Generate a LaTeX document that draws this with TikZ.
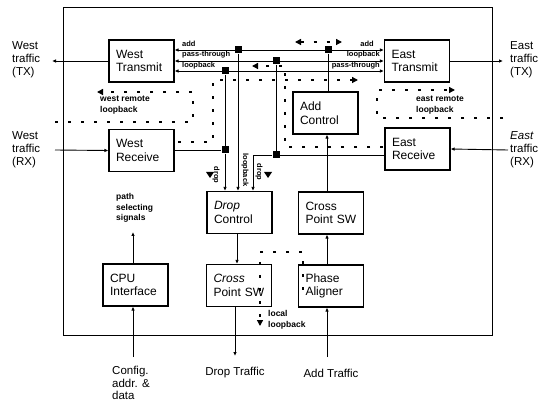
\documentclass[tikz,border=0pt]{standalone}
\usepackage{fontspec}
\setmainfont{Liberation Sans}
\usetikzlibrary{arrows.meta}
\begin{document}
\begin{tikzpicture}[x=1pt,y=-1pt,
  blk/.style={draw, line width=1.1pt, minimum height=42pt, align=left,
    font=\fontsize{12}{13.5}\selectfont, text width=51pt, inner xsep=7pt, inner ysep=0pt},
  wire/.style={line width=0.9pt},
  tip/.style={-{Latex[length=4pt,width=3.5pt]}},
  btip/.style={{Latex[length=4pt,width=3.5pt]}-{Latex[length=4pt,width=3.5pt]}},
  junc/.style={fill=black, rectangle, minimum size=7pt, inner sep=0pt},
  dpath/.style={line width=1.3pt, dash pattern=on 3pt off 10pt, -{Triangle[length=6pt,width=6pt]}},
  side/.style={align=left, font=\fontsize{11.5}{13}\selectfont, inner sep=0pt},
  small/.style={font=\fontsize{7.5}{8}\selectfont\bfseries, inner sep=0pt},
  note/.style={align=left, font=\fontsize{8.5}{10.5}\selectfont\bfseries, inner sep=0pt}]
\useasboundingbox (0,0) rectangle (555,401);
% outer box
\draw[line width=1pt] (63,8) rectangle (492,335);
% blocks
\node[blk] (wtx) at (141.5,61) {West\\Transmit};
\node[blk] (wrx) at (141.5,150.5) {West\\Receive};
\node[blk] (etx) at (417,61) {East\\Transmit};
\node[blk] (erx) at (417.5,149) {East\\Receive};
\node[blk] (addc) at (325.5,113) {Add\\Control};
\node[blk] (dropc) at (239.5,212.5) {\textit{Drop}\\Control};
\node[blk] (cpsu) at (331,213) {Cross\\Point SW};
\node[blk] (cpsl) at (239,285.5) {\textit{Cross}\\Point SW};
\node[blk] (pha) at (331,286) {Phase\\Aligner};
\node[blk] (cpu) at (135.5,285) {CPU\\Interface};
% outside labels
\node[side, anchor=west] (wtxl) at (12,60) {West\\traffic\\(TX)};
\node[side, anchor=west] (wrxl) at (12,150) {West\\traffic\\(RX)};
\node[side, anchor=west] (etxl) at (510,60) {East\\traffic\\(TX)};
\node[side, anchor=west] (erxl) at (510,150) {\textit{East}\\traffic\\(RX)};
\node[side, anchor=north west, font=\fontsize{11.5}{12.5}\selectfont] (cfgl) at (112,366) {Config.\\addr. \&\\data};
\node[side] (dropl) at (235,373) {Drop Traffic};
\node[side] (addl) at (331,373) {Add Traffic};
\node[note, anchor=west] (psl) at (116,208) {path\\selecting\\signals};
% connector end points
\coordinate (wa) at (wtx.east |- 0,50);
\coordinate (wp) at (wtx.east |- 0,61);
\coordinate (wl) at (wtx.east |- 0,71);
\coordinate (ea) at (etx.west |- 0,50);
\coordinate (el) at (etx.west |- 0,61);
\coordinate (ep) at (etx.west |- 0,71);
\coordinate (wtxo) at (52,61);
\coordinate (wrxi) at (55,150);
\coordinate (etxo) at (503,61);
\coordinate (erxi) at (508,150);
\coordinate (dto) at (235,356);
\coordinate (ati) at (327,357);
\coordinate (cfi) at (133,357);
\coordinate (pso) at (133,232);
% junctions
\node[junc] (j1) at (238,50) {};
\node[junc] (j2) at (276,61) {};
\node[junc] (j3) at (225,71) {};
\node[junc] (j4) at (328,50) {};
\node[junc] (j5) at (225,150) {};
\node[junc] (j6) at (276,155) {};
% bus lines
\draw[wire,btip] (wa) -- (ea);
\draw[wire,btip] (wp) -- (el);
\draw[wire,btip] (wl) -- (ep);
% verticals
\draw[wire,tip] (j1) -- (j1 |- dropc.north);
\draw[wire] (j3) -- (j5);
\draw[wire,tip] (j5) -- (j5 |- dropc.north);
\draw[wire] (j2) -- (j6);
\draw[wire,tip] (j6) -| (253,0 |- dropc.north);
\draw[wire] (wrx.east |- j5) -- (j5);
\draw[wire] (erx.west |- j6) -- (j6);
\draw[wire] (j4) -- (j4 |- addc.north);
\draw[wire,tip] (327,0 |- cpsu.north) -- (327,0 |- addc.south);
\draw[wire,tip] (327,0 |- pha.north) -- (327,0 |- cpsu.south);
\draw[wire,tip] (237,0 |- dropc.south) -- (237,0 |- cpsl.north);
\draw[wire,tip] (235,0 |- cpsl.south) -- (dto);
\draw[wire,tip] (ati) -- (327,0 |- pha.south);
\draw[wire,tip] (cfi) -- (133,0 |- cpu.south);
\draw[wire,tip] (133,0 |- cpu.north) -- (pso);
\draw[wire,tip] (wtx.west) -- (wtxo);
\draw[wire,tip] (wrxi) -- (wrx.west);
\draw[wire,tip] (etx.east) -- (etxo);
\draw[wire,tip] (erxi) -- (erx.east);
% bus labels
\node[small, anchor=west] (la1) at (182,44) {add};
\node[small, anchor=west] (la2) at (182,55) {pass-through};
\node[small, anchor=west] (la3) at (182,65.5) {loopback};
\node[small, anchor=east] (lb1) at (374,44) {add};
\node[small, anchor=east] (lb2) at (380,55) {loopback};
\node[small, anchor=east] (lb3) at (380,65.5) {pass-through};
\node[small, rotate=-90] (ld1) at (216,175) {drop};
\node[small, rotate=-90] (ld2) at (245,170) {loopback};
\node[small, rotate=-90] (ld3) at (259,172) {drop};
\fill (206,172) -- (214,172) -- (210,178) -- cycle;
\fill (264,172) -- (272,172) -- (268,178) -- cycle;
% dashed paths
\draw[dpath] (55,122) -- (193,122) -- (193,92) -- (97,92);
\draw[dpath] (503,118) -- (377,118) -- (377,90) -- (455,90);
\draw[dpath] (178,142) -- (213,142) -- (213,80) -- (358,80);
\draw[dpath] (383,147) -- (285,147) -- (285,66) -- (252,66);
\draw[line width=1.3pt, dash pattern=on 3pt off 10pt, {Triangle[length=6pt,width=6pt]}-{Triangle[length=6pt,width=6pt]}] (295,42) -- (342,42);
\draw[dpath] (303,290) -- (303,252) -- (260,252) -- (260,326);
\node[note, anchor=west] (wrl) at (100,105) {west remote\\loopback};
\node[note, anchor=west] (erl) at (416,105) {east remote\\loopback};
\node[note, anchor=west] (lll) at (268,320) {local\\loopback};
\end{tikzpicture}
\end{document}
